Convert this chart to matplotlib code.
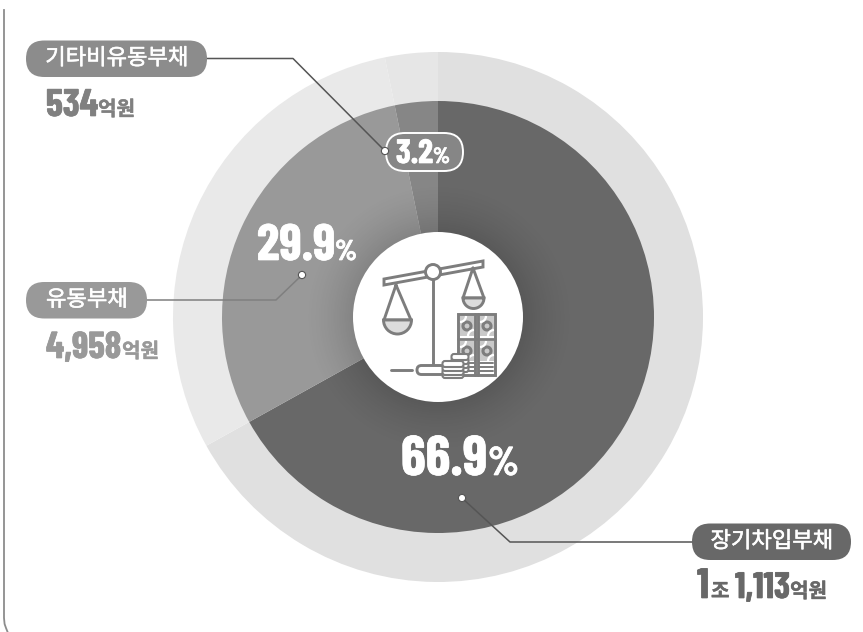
import numpy as np
import matplotlib
matplotlib.use("Agg")
import matplotlib.pyplot as plt
import matplotlib.patheffects as pe
from matplotlib import font_manager as fm
from matplotlib.patches import FancyBboxPatch, Circle, Wedge, Rectangle, Polygon, Arc

KR = 'Noto Sans CJK KR'
plt.rcParams['font.family'] = [KR, 'DejaVu Sans']
names = {f.name for f in fm.fontManager.ttflist}
NUM = next((n for n in ['Barlow Condensed', 'Roboto Condensed', 'Archivo Narrow', 'Oswald',
                        'Liberation Sans Narrow', 'Roboto'] if n in names), 'DejaVu Sans')

categories = ['장기차입부채', '유동부채', '기타비유동부채']
amounts = [11113, 4958, 534]
shares = [66.9, 29.9, 3.2]
inner_colors = ['#686868', '#999999', '#868686']
outer_colors = ['#e0e0e0', '#e9e9e9', '#e6e6e6']

W, H = 863, 632
fig = plt.figure(figsize=(W/100, H/100), dpi=100)
ax = fig.add_axes([0, 0, 1, 1])
ax.set_xlim(0, W); ax.set_ylim(H, 0); ax.axis('off')
CX, CY = 438, 317

total = sum(amounts)
start = -90.0
for val, ci, co in zip(amounts, inner_colors, outer_colors):
    sweep = val/total*360
    ax.add_patch(Wedge((CX, CY), 265, start, start+sweep, fc=co, ec='none', zorder=1))
    ax.add_patch(Wedge((CX, CY), 216, start, start+sweep, fc=ci, ec='none', zorder=2))
    start += sweep

yy, xx = np.mgrid[0:H, 0:W]
rr = np.hypot(xx-CX, yy-CY)
alpha = np.clip((135-rr)/50, 0, 1)**1.5*0.14
rgba = np.zeros((H, W, 4)); rgba[..., 3] = alpha
im = ax.imshow(rgba, extent=(0, W, H, 0), zorder=3, interpolation='bilinear', aspect='auto')
ax.set_xlim(0, W); ax.set_ylim(H, 0)

ax.add_patch(Circle((CX, CY), 85, fc='white', ec='none', zorder=4))

frame = '#8c8c8c'
ax.plot([4, 4, 4.6, 6, 8], [10, 618, 624, 628, 633], color=frame, lw=1.3, zorder=1)

ax.plot([205, 293, 385], [58.5, 58.5, 151], color='#555555', lw=1.1, zorder=6)
ax.plot([146, 276, 302], [300, 300, 275], color='#7f7f7f', lw=1.1, zorder=6)
ax.plot([462, 510, 695], [498, 542, 542], color='#555555', lw=1.1, zorder=6)
for (x, y) in [(385, 151), (302, 275), (462, 498)]:
    ax.add_patch(Circle((x, y), 3.6, fc='white', ec='#555555', lw=0.8, zorder=8))

def pill(x0, y0, x1, y1, fc, ec='none', lw=0, z=7):
    h = y1-y0
    p = FancyBboxPatch((x0+h/2, y0+h/2), x1-x0-h, 0.001, boxstyle="round,pad=0,rounding_size=0",
                       fc=fc, ec=ec, lw=lw, zorder=z)
    p.set_boxstyle("round", pad=h/2, rounding_size=h/2)
    ax.add_patch(p)

pill(26, 40.5, 207, 77, '#8c8c8c')
pill(26, 282, 147, 318.5, '#999999')
pill(692, 523.5, 851, 560, '#686868')
pill(386, 133, 463, 171, '#868686', ec='white', lw=1.4)

lab = dict(color='white', ha='center', va='center', zorder=9, fontsize=16, family=[KR, 'DejaVu Sans'])
for x, y, c in [(117, 58, categories[2]), (87, 299.5, categories[1]), (772, 541, categories[0])]:
    t = ax.text(x, y, c, **lab)
    t.set_path_effects([pe.withStroke(linewidth=0.4, foreground='white')])

renderer = fig.canvas.get_renderer()

def num(x, y, s, width, color):
    """A number in the condensed face, sized so that it spans `width` pixels."""
    t = ax.text(x, y, s, fontsize=20, family=NUM, fontweight='bold', color=color,
                va='baseline', ha='left', zorder=9)
    size = 20*width/t.get_window_extent(renderer).width
    t.set_fontsize(size)
    t.set_path_effects([pe.withStroke(linewidth=0.5, foreground=color)])
    return size

def unit(x, y, s, color):
    t = ax.text(x, y, s, fontsize=14.5, family=[KR, 'DejaVu Sans'], fontweight='bold', color=color,
                va='baseline', ha='left', zorder=9)
    t.set_path_effects([pe.withStroke(linewidth=0.3, foreground=color)])

num(46, 116, '534', 52, '#808080'); unit(98, 115.5, '억원', '#808080')
num(46, 358, '4,958', 75, '#999999'); unit(122, 357.5, '억원', '#999999')
num(697, 598, '1', 12, '#686868'); unit(711, 597.5, '조', '#686868')
num(735, 598, '1,113', 55, '#686868'); unit(790, 597.5, '억원', '#686868')

num(257, 260, f'{shares[1]}', 78, 'white'); num(335, 260, '%', 22, 'white')
num(401, 475, f'{shares[0]}', 86, 'white'); num(488, 475, '%', 31, 'white')
num(396, 163, f'{shares[2]}', 37, 'white'); num(433, 163, '%', 17, 'white')

# balance-scale icon
ic = '#7d7d7d'
lw = 2.1
def L(xs, ys, w=lw):
    ax.plot(xs, ys, color=ic, lw=w, zorder=6, solid_capstyle='round', solid_joinstyle='round')
ax.add_patch(Polygon([(384, 279), (483, 261), (483, 267), (384, 285)], closed=True, fc='white', ec=ic, lw=lw, zorder=6))
ax.add_patch(Circle((433, 272), 7.5, fc='white', ec=ic, lw=lw, zorder=7))
L([433, 433], [268, 272], 1.4)
L([433, 433], [280, 365])
L([396, 384, 411, 396], [285, 320, 320, 285])
ax.add_patch(Wedge((397.5, 320), 14, 0, 180, fc='#dcdcdc', ec=ic, lw=lw, zorder=6))
L([473, 463, 484, 473], [268, 298, 298, 268])
ax.add_patch(Wedge((473.5, 298), 10.5, 0, 180, fc='#dcdcdc', ec=ic, lw=lw, zorder=6))
L([391, 412], [370, 370])
ax.add_patch(FancyBboxPatch((417, 365.5), 28, 9, boxstyle="round,pad=0,rounding_size=4.5", fc='white', ec=ic, lw=lw, zorder=6))
ax.add_patch(Rectangle((458, 314), 37, 61, fc='white', ec=ic, lw=lw, zorder=6))
L([475, 475], [314, 375]); L([478, 478], [314, 375])
L([458, 495], [338.5, 338.5], 2.0)
for x0 in (460, 480):
    for y0 in (316, 341):
        ax.add_patch(Rectangle((x0, y0), 14, 20, fc='#c9c9c9', ec='none', zorder=6))
        ax.add_patch(Circle((x0+7, y0+10), 4, fc='none', ec=ic, lw=2.2, zorder=6))
        ax.add_patch(Arc((x0, y0), 12, 12, theta1=0, theta2=90, ec='white', lw=1.6, zorder=6))
        ax.add_patch(Arc((x0+14, y0+20), 12, 12, theta1=180, theta2=270, ec='white', lw=1.6, zorder=6))
for y in (363, 367, 371):
    L([479, 493], [y, y], 1.4)
    L([460, 474], [y, y], 1.4)
for x, ww, ys in [(460, 17, (357, 361, 365, 369)), (453, 21, (364, 368, 372, 375))]:
    for y in ys[::-1]:
        ax.add_patch(FancyBboxPatch((x-ww/2+2, y-1), ww-4, 2, boxstyle="round,pad=2,rounding_size=2.5",
                                    fc='white', ec=ic, lw=1.5, zorder=7))

fig.savefig('out.png', dpi=100)
